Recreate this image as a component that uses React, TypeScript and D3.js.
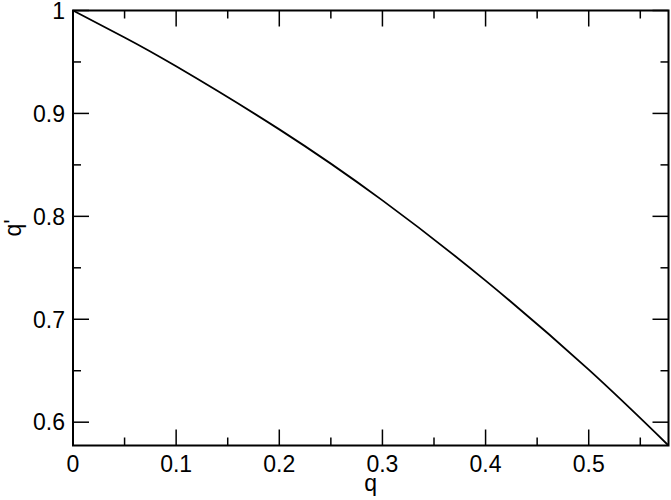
import React from "react";
import * as d3 from "d3";

const qValues = [0, 0.05, 0.1, 0.2, 0.3, 0.4, 0.5, 0.57735];
const qPrimeValues = [1, 0.9738, 0.9458, 0.8845, 0.8155, 0.7375, 0.651, 0.57735];
const xMajorTicks = [0, 0.1, 0.2, 0.3, 0.4, 0.5];
const xMinorTicks = [0.05, 0.15, 0.25, 0.35, 0.45, 0.55];
const yMajorTicks = [0.6, 0.7, 0.8, 0.9, 1];
const yMinorTicks = [0.65, 0.75, 0.85, 0.95];
const xLabels = ["0", "0.1", "0.2", "0.3", "0.4", "0.5"];
const yLabels = ["0.6", "0.7", "0.8", "0.9", "1"];

const W = 671;
const H = 500;
const L = 73;
const R = 668.5;
const T = 10.5;
const B = 445.5;

export default function App() {
  const x = d3.scaleLinear().domain([0, 0.57735]).range([L, R]);
  const y = d3.scaleLinear().domain([0.57735, 1]).range([B, T]);
  const pts = qValues.map((q, i) => [q, qPrimeValues[i]] as [number, number]);
  const line = d3
    .line<[number, number]>()
    .x((d) => x(d[0]))
    .y((d) => y(d[1]))
    .curve(d3.curveNatural);
  const font = "'Liberation Sans', Arial, Helvetica, sans-serif";
  const major = 16;
  const minor = 8;
  return (
    <div style={{ position: "absolute", left: 0, top: 0 }}>
      <svg width={W} height={H} style={{ display: "block", background: "#fff" }}>
        <rect x={0} y={0} width={W} height={H} fill="#fff" />
        <path d={line(pts) || ""} fill="none" stroke="#000" strokeWidth={1.8} />
        <g stroke="#000" strokeWidth={1.5}>
          {xMajorTicks.map((t) => (
            <g key={"xm" + t}>
              <line x1={x(t)} x2={x(t)} y1={B} y2={B - major} />
              <line x1={x(t)} x2={x(t)} y1={T} y2={T + major} />
            </g>
          ))}
          {xMinorTicks.map((t) => (
            <g key={"xn" + t}>
              <line x1={x(t)} x2={x(t)} y1={B} y2={B - minor} />
              <line x1={x(t)} x2={x(t)} y1={T} y2={T + minor} />
            </g>
          ))}
          {yMajorTicks.map((t) => (
            <g key={"ym" + t}>
              <line x1={L} x2={L + major} y1={y(t)} y2={y(t)} />
              <line x1={R} x2={R - major} y1={y(t)} y2={y(t)} />
            </g>
          ))}
          {yMinorTicks.map((t) => (
            <g key={"yn" + t}>
              <line x1={L} x2={L + minor} y1={y(t)} y2={y(t)} />
              <line x1={R} x2={R - minor} y1={y(t)} y2={y(t)} />
            </g>
          ))}
        </g>
        <rect x={L} y={T} width={R - L} height={B - T} fill="none" stroke="#000" strokeWidth={2} />
        <g fontFamily={font} fontSize={23} fill="#000">
          {xMajorTicks.map((t, i) => (
            <text key={"xl" + t} x={x(t)} y={471.5} textAnchor="middle">
              {xLabels[i]}
            </text>
          ))}
          {yMajorTicks.map((t, i) => (
            <text key={"yl" + t} x={65} y={y(t)} dy="0.36em" textAnchor="end">
              {yLabels[i]}
            </text>
          ))}
          <text x={(L + R) / 2} y={491} textAnchor="middle">
            q
          </text>
          <text
            transform={`translate(21,${(T + B) / 2}) rotate(-90)`}
            textAnchor="middle"
          >
            q'
          </text>
        </g>
      </svg>
    </div>
  );
}
